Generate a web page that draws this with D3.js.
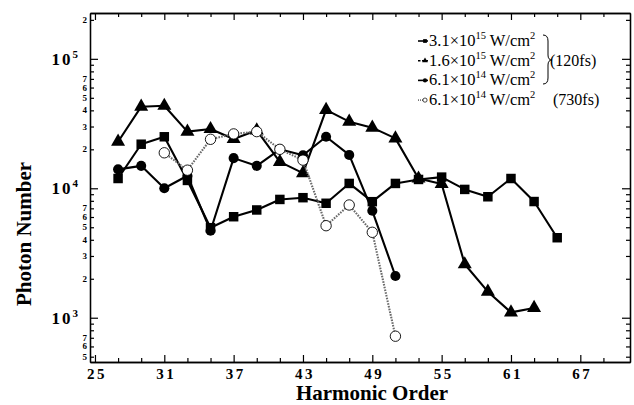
<!DOCTYPE html>
<html>
<head>
<meta charset="utf-8">
<script src="https://cdn.jsdelivr.net/npm/d3@7/dist/d3.min.js"></script>
<style>
  body { margin: 0; background: #fff; }
  svg { display: block; }
  text { font-family: "Liberation Serif", "Times New Roman", serif; fill: #000; }
</style>
</head>
<body>
<svg id="chart" width="634" height="405"></svg>
<script>
// Harmonic orders and photon numbers.
const ordersA = [27, 29, 31, 33, 35, 37, 39, 41, 43, 45, 47, 49, 51, 53, 55, 57, 59, 61, 63, 65];
const photonsA = [11900, 21900, 25000, 11500, 4960, 6030, 6800, 8200, 8460, 7660, 10900, 7880, 10900, 11700, 12200, 9800, 8600, 11900, 7900, 4150];   // 3.1e15 W/cm2

const ordersB = [27, 29, 31, 33, 35, 37, 39, 41, 43, 45, 47, 49, 51, 53, 55, 57, 59, 61, 63];
const photonsB = [22900, 42700, 43400, 27400, 28700, 24000, 28000, 16000, 13100, 40300, 32700, 29400, 24300, 11900, 10800, 2590, 1590, 1100, 1190];     // 1.6e15 W/cm2

const ordersC = [27, 29, 31, 33, 35, 37, 39, 41, 43, 45, 47, 49, 51];
const photonsC = [14000, 14900, 10000, 12500, 4700, 17100, 14900, 20000, 18000, 25000, 18100, 6700, 2100];   // 6.1e14 W/cm2, 120 fs

const ordersD = [31, 33, 35, 37, 39, 41, 43, 45, 47, 49, 51];
const photonsD = [18800, 13800, 23900, 26300, 27400, 20000, 16500, 5140, 7430, 4570, 720];   // 6.1e14 W/cm2, 730 fs

const xMajorTicks = [25, 31, 37, 43, 49, 55, 61, 67];
const yDecades = [1e3, 1e4, 1e5];
const yLabelled = [500, 600, 700, 2000, 3000, 4000, 5000, 6000, 7000, 20000, 30000, 40000, 50000, 60000, 70000, 200000];

const legendRows = [
  { base: "3.1×10", exp: "15", kind: "square" },
  { base: "1.6×10", exp: "15", kind: "triangle" },
  { base: "6.1×10", exp: "14", kind: "circle" },
  { base: "6.1×10", exp: "14", kind: "open" }
];

const svg = d3.select("#chart");
const plotLeft = 90, plotRight = 630, plotTop = 13, plotBottom = 362;

const x = d3.scaleLinear().domain([24.57, 71.3]).range([plotLeft, plotRight]);
const y = d3.scaleLog().domain([455, 226000]).range([plotBottom, plotTop]);

// minor tick positions
const xMinor = d3.range(25, 71, 2).filter(v => !xMajorTicks.includes(v));
const yMinor = [];
[100, 1000, 10000, 100000].forEach(d => {
  for (let k = 2; k <= 9; k++) {
    const v = d * k;
    if (v >= 455 && v <= 226000) yMinor.push(v);
  }
});

function styleAxis(g) {
  g.select(".domain").attr("stroke", "#000").attr("stroke-width", 1.3);
  g.selectAll(".tick line").attr("stroke", "#000").attr("stroke-width", 1.2);
}

// bottom axis
svg.append("g").attr("transform", `translate(0,${plotBottom})`)
  .call(d3.axisBottom(x).tickValues(xMinor).tickSize(-4).tickSizeOuter(0).tickFormat(""))
  .call(styleAxis);
const xMaj = svg.append("g").attr("transform", `translate(0,${plotBottom})`)
  .call(d3.axisBottom(x).tickValues(xMajorTicks).tickSize(-7).tickSizeOuter(0).tickPadding(6).tickFormat(d3.format("d")))
  .call(styleAxis);
xMaj.selectAll(".tick text")
  .attr("font-family", "Liberation Serif, serif")
  .attr("font-weight", "bold")
  .attr("font-size", 15)
  .attr("letter-spacing", 2.5)
  .attr("dx", 1.5)
  .attr("fill", "#000");

// top axis (mirrored)
svg.append("g").attr("transform", `translate(0,${plotTop})`)
  .call(d3.axisTop(x).tickValues(xMinor).tickSize(-4).tickSizeOuter(0).tickFormat(""))
  .call(styleAxis);
svg.append("g").attr("transform", `translate(0,${plotTop})`)
  .call(d3.axisTop(x).tickValues(xMajorTicks).tickSize(-7).tickSizeOuter(0).tickFormat(""))
  .call(styleAxis);

// left axis
svg.append("g").attr("transform", `translate(${plotLeft},0)`)
  .call(d3.axisLeft(y).tickValues(yMinor).tickSize(-4).tickSizeOuter(0).tickFormat(""))
  .call(styleAxis);
svg.append("g").attr("transform", `translate(${plotLeft},0)`)
  .call(d3.axisLeft(y).tickValues(yDecades).tickSize(-8).tickSizeOuter(0).tickFormat(""))
  .call(styleAxis);

// right axis
svg.append("g").attr("transform", `translate(${plotRight},0)`)
  .call(d3.axisRight(y).tickValues(yMinor).tickSize(-4).tickSizeOuter(0).tickFormat(""))
  .call(styleAxis);
svg.append("g").attr("transform", `translate(${plotRight},0)`)
  .call(d3.axisRight(y).tickValues(yDecades).tickSize(-8).tickSizeOuter(0).tickFormat(""))
  .call(styleAxis);

// y labels
svg.append("g").selectAll("text").data(yLabelled).join("text")
  .attr("x", plotLeft - 3)
  .attr("y", d => y(d) + 3)
  .attr("text-anchor", "end")
  .attr("font-weight", "bold")
  .attr("font-size", 9)
  .text(d => String(d).charAt(0));

const dec = svg.append("g").selectAll("text").data(yDecades).join("text")
  .attr("x", plotLeft - 12)
  .attr("y", d => y(d) + 6)
  .attr("text-anchor", "end")
  .attr("font-weight", "bold")
  .attr("font-size", 17)
  .attr("letter-spacing", 2);
dec.append("tspan").text("10");
dec.append("tspan").attr("dy", -7).attr("font-size", 11).attr("letter-spacing", 0)
  .text(d => Math.round(Math.log10(d)));

// axis titles
svg.append("text")
  .attr("x", (plotLeft + plotRight) / 2 + 12).attr("y", 400)
  .attr("text-anchor", "middle")
  .attr("font-weight", "bold").attr("font-size", 21)
  .text("Harmonic Order");
svg.append("text")
  .attr("transform", "translate(31,234) rotate(-90)")
  .attr("text-anchor", "middle")
  .attr("font-weight", "bold").attr("font-size", 21)
  .text("Photon Number");

// series
const series = [
  { h: ordersA, v: photonsA, kind: "square" },
  { h: ordersB, v: photonsB, kind: "triangle" },
  { h: ordersC, v: photonsC, kind: "circle" },
  { h: ordersD, v: photonsD, kind: "open" }
];

const line = d3.line().x(d => x(d[0])).y(d => y(d[1]));

function symbolFor(kind, size) {
  const t = kind === "square" ? d3.symbolSquare : kind === "triangle" ? d3.symbolTriangle : d3.symbolCircle;
  return d3.symbol().type(t).size(size)();
}

series.forEach(s => {
  const pts = s.h.map((h, i) => [h, s.v[i]]);
  const open = s.kind === "open";
  svg.append("path")
    .datum(pts)
    .attr("d", line)
    .attr("fill", "none")
    .attr("stroke", open ? "#6a6a6a" : "#000")
    .attr("stroke-width", 2.1)
    .attr("stroke-dasharray", open ? "1.6,1.2" : null)
    .attr("stroke-linejoin", "round");
  const size = s.kind === "square" ? 90 : s.kind === "triangle" ? 85 : 80;
  svg.append("g").selectAll("path").data(pts).join("path")
    .attr("transform", d => `translate(${x(d[0])},${y(d[1])})`)
    .attr("d", symbolFor(s.kind, open ? 85 : size))
    .attr("fill", open ? "#fff" : "#000")
    .attr("stroke", "#000")
    .attr("stroke-width", open ? 0.9 : 0);
});

// legend
const lg = svg.append("g");
legendRows.forEach((r, i) => {
  const cy = 41 + i * 19.7;
  const open = r.kind === "open";
  lg.append("line")
    .attr("x1", 418).attr("x2", 428).attr("y1", cy).attr("y2", cy)
    .attr("stroke", open ? "#777" : "#000").attr("stroke-width", 1.6)
    .attr("stroke-dasharray", open ? "1,1" : r.kind === "triangle" ? "2.5,1.5" : null);
  lg.append("path")
    .attr("transform", `translate(425,${cy})`)
    .attr("d", symbolFor(r.kind, 14))
    .attr("fill", open ? "#fff" : "#000")
    .attr("stroke", "#000").attr("stroke-width", open ? 0.7 : 0);
  const t = lg.append("text").attr("x", 429).attr("y", cy + 5).attr("font-size", 16.5);
  t.append("tspan").text(r.base);
  t.append("tspan").attr("dy", -7).attr("font-size", 10.5).text(r.exp);
  t.append("tspan").attr("dy", 7).text(" W/cm");
  t.append("tspan").attr("dy", -7).attr("font-size", 10.5).text("2");
});
lg.append("path")
  .attr("d", "M543,35 Q548,35 548,41 L548,55 Q548,60 552,60 Q548,60 548,65 L548,78 Q548,84 543,84")
  .attr("fill", "none").attr("stroke", "#000").attr("stroke-width", 1);
lg.append("text").attr("x", 550).attr("y", 66).attr("font-size", 16).text("(120fs)");
lg.append("text").attr("x", 553).attr("y", 105).attr("font-size", 16).text("(730fs)");
</script>
</body>
</html>
